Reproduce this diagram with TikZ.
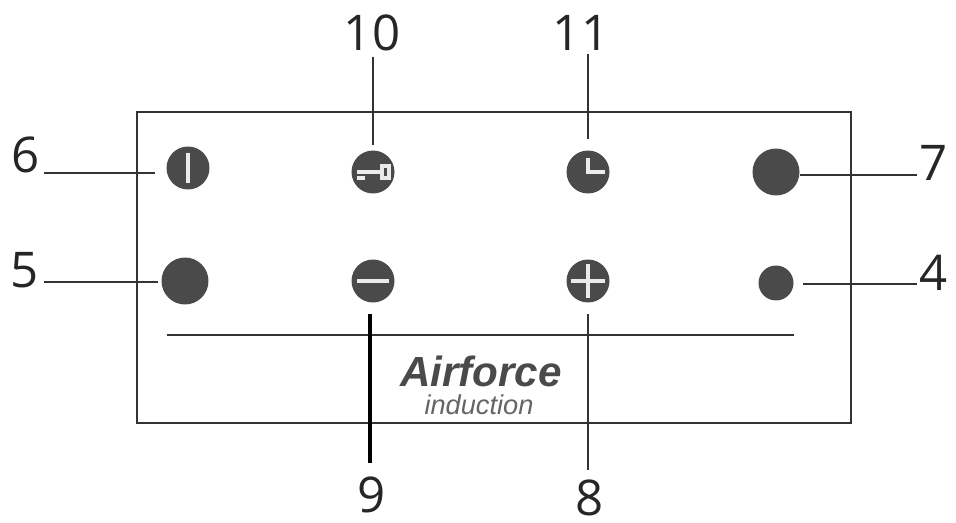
\documentclass[tikz,border=0pt]{standalone}
\usepackage{fontspec}
\setmainfont{Open Sans}
\newfontfamily\logofont{Liberation Sans}
\usetikzlibrary{positioning, calc}

\definecolor{btngray}{HTML}{4A4A4A}
\definecolor{linegray}{HTML}{333333}

\tikzset{
	button/.style={circle, fill=btngray, inner sep=0pt, minimum size=#1},
	number/.style={inner sep=0pt, text=black!85, font=\fontsize{28}{28}\selectfont},
	leader/.style={linegray, line width=1pt},
	glyph/.style={white!92!black, line width=2pt}
}

\begin{document}
\begin{tikzpicture}[x=0.02cm, y=-0.02cm]
	\useasboundingbox (0,0) rectangle (956,523);

	% Panel
	\draw[linegray, line width=1pt] (137,112) rectangle (851,423);
	\draw[linegray, line width=1.3pt] (167,335) -- (794,335);

	% Buttons
	\node[button=0.86cm] (btn6) at (188,168) {};
	\node[button=0.94cm] (btn5) at (185,281) {};
	\node[button=0.86cm] (btn10) at (373,172) {};
	\node[button=0.86cm] (btn11) at (588,172) {};
	\node[button=0.86cm] (btn9) at (373,281) {};
	\node[button=0.86cm] (btn8) at (588,281) {};
	\node[button=0.94cm] (btn7) at (776,172) {};
	\node[button=0.70cm] (btn4) at (776,283) {};

	% Glyphs inside the buttons
	\draw[glyph] ($(btn6)+(0,-15)$) -- ($(btn6)+(0,15)$);
	\draw[glyph] ($(btn9)+(-16,0)$) -- ($(btn9)+(16,0)$);
	\draw[glyph] ($(btn8)+(-17,0)$) -- ($(btn8)+(17,0)$);
	\draw[glyph] ($(btn8)+(0,-17)$) -- ($(btn8)+(0,17)$);
	\draw[glyph] ($(btn11)+(0,-14)$) -- (btn11.center) -- ($(btn11)+(17,0)$);
	\draw[glyph] ($(btn10)+(-16,0)$) -- ($(btn10)+(7,0)$);
	\draw[glyph] ($(btn10)+(-16,6)$) -- ($(btn10)+(-8,6)$);
	\draw[glyph, line width=2.2pt] ($(btn10)+(9,-6)$) rectangle ($(btn10)+(16,6)$);

	% Numbers
	\node[number] (lab10) at (372,33) {10};
	\node[number] (lab11) at (581,33) {11};
	\node[number] (lab6) at (26,155) {6};
	\node[number] (lab5) at (25,270) {5};
	\node[number] (lab7) at (934,163) {7};
	\node[number] (lab4) at (934,273) {4};
	\node[number] (lab9) at (372,495) {9};
	\node[number] (lab8) at (590,498) {8};

	% Free ends of the leaders
	\coordinate (lead6) at (44,173);
	\coordinate (lead5) at (44,282);
	\coordinate (lead7) at (917,175);
	\coordinate (lead4) at (917,284);
	\coordinate (lead10) at (373,57);
	\coordinate (lead11) at (588,54);
	\coordinate (lead9) at (370,463);
	\coordinate (lead8) at (588,470);

	% Leaders
	\draw[leader, shorten >=0.22cm] (lead6) -- (btn6.west |- lead6);
	\draw[leader, shorten >=0.06cm] (lead5) -- (btn5.west |- lead5);
	\draw[leader, shorten >=0cm] (lead7) -- (btn7.east |- lead7);
	\draw[leader, shorten >=0.18cm] (lead4) -- (btn4.east |- lead4);
	\draw[leader, shorten >=0.1cm] (lead10) -- (btn10.north);
	\draw[leader, shorten >=0.22cm] (lead11) -- (btn11.north);
	\draw[leader, black, line width=1.9pt, shorten >=0.22cm] (lead9) -- (btn9.south -| lead9);
	\draw[leader, shorten >=0.22cm] (lead8) -- (btn8.south);

	% Logo
	\node[inner sep=0pt, text=btngray] (logo) at (481,371) {\logofont\fontsize{24}{24}\selectfont\bfseries\itshape Airforce};
	\node[inner sep=0pt, text=btngray!85] (induction) at (479,405) {\logofont\fontsize{15.5}{15.5}\selectfont\itshape induction};
\end{tikzpicture}
\end{document}
